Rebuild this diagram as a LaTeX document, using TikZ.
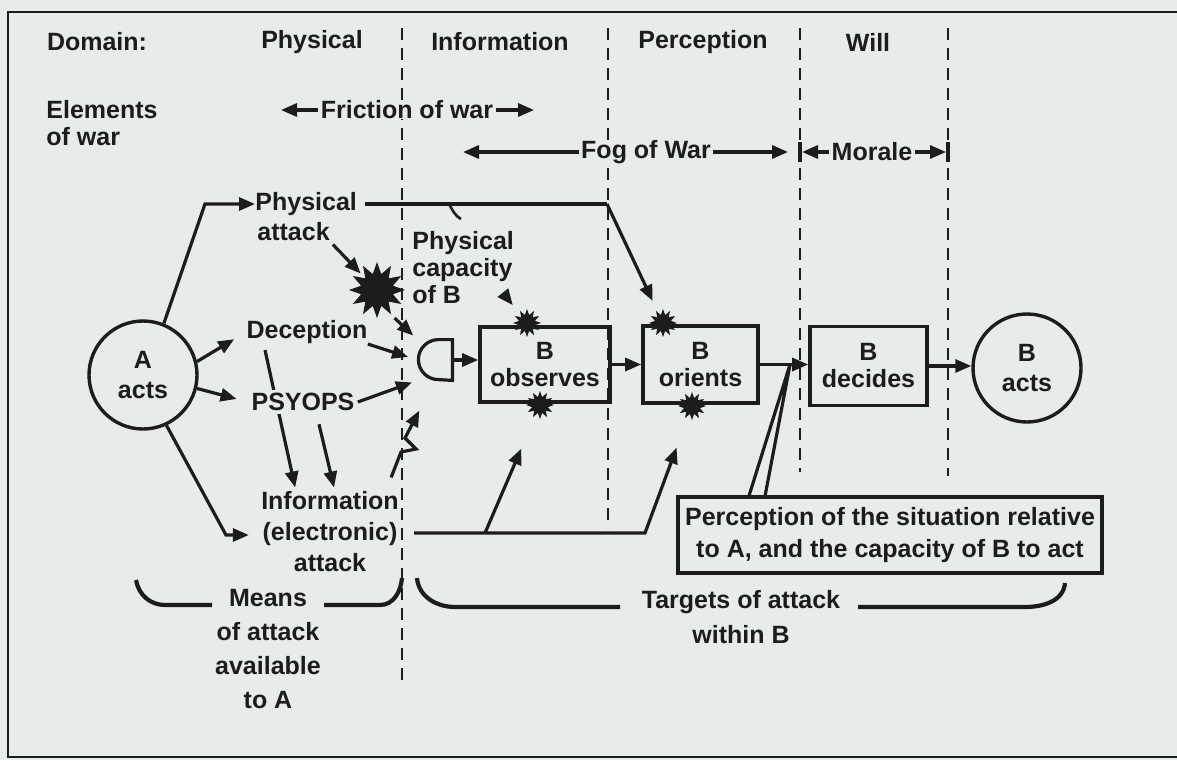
\documentclass[tikz,border=0pt]{standalone}
\usepackage{fontspec}
\setmainfont{Liberation Sans}
\usetikzlibrary{arrows.meta,shapes.geometric,calc}
\definecolor{paper}{RGB}{232,236,232}
\definecolor{ink}{RGB}{28,28,28}
\newcommand\lblsize[1]{\bfseries\fontsize{12.5pt}{#1}\selectfont}

\begin{document}
\begin{tikzpicture}[x=0.5pt,y=-0.5pt,
  lbl/.style={inner sep=0pt,text=ink,font=\lblsize{15pt},align=center},
  boxnode/.style={draw=ink,line width=1.8pt,inner sep=0pt,text=ink,
    font=\lblsize{13.5pt},align=center},
  circnode/.style={circle,draw=ink,line width=1.7pt,minimum size=54pt,
    inner sep=0pt,text=ink,font=\lblsize{15pt},align=center},
  ln/.style={draw=ink,line width=1.6pt},
  arr/.style={ln,-{Triangle[length=8pt,width=6.5pt]}},
  divider/.style={draw=ink,line width=1.2pt,dash pattern=on 6pt off 4pt},
  burst/.style={star,star points=12,star point ratio=1.7,fill=ink,inner sep=0pt},
  brk/.style={draw=ink,line width=2.1pt}]

\fill[paper] (0,0) rectangle (1177,760);
\useasboundingbox (0,0) rectangle (1177,760);

% frame
\draw[ink,line width=1pt] (1177,12) -- (8,12) -- (8,757) -- (1177,757);

% domain dividers
\foreach \x/\yb in {402/680,608/528,800/472,948/476}
  \draw[divider] (\x,28) -- (\x,\yb);

% header row
\node[lbl] (hdom) at (97,42) {Domain:};
\node[lbl] (hphy) at (312,42) {Physical};
\node[lbl] (hinf) at (500,42) {Information};
\node[lbl] (hper) at (703,42) {Perception};
\node[lbl] (hwil) at (868,42) {Will};

% elements of war
\node[lbl,align=left,anchor=west,font=\lblsize{13.5pt}] (elem) at (46,123) {Elements\\of war};
\node[lbl,fill=paper,inner xsep=1pt] (fric) at (407,110) {Friction of war};
\coordinate (fricL) at (281,110);
\coordinate (fricR) at (534,110);
\draw[arr] (fric.west) -- (fricL);
\draw[arr] (fric.east) -- (fricR);

\node[lbl,fill=paper,inner xsep=1pt] (fog) at (646,152) {Fog of War};
\coordinate (fogL) at (463,152);
\coordinate (fogR) at (788,152);
\draw[arr] (fog.west) -- (fogL);
\draw[arr] (fog.east) -- (fogR);

% morale, bounded by the will domain
\draw[ink,line width=1.6pt] (800,142) -- (800,162) (948,142) -- (948,162);
\node[lbl,inner xsep=1pt] (mor) at (872,152) {Morale};
\coordinate (morL) at (802,152);
\coordinate (morR) at (946,152);
\draw[arr] (mor.west) -- (morL);
\draw[arr] (mor.east) -- (morR);

% actors
\node[circnode] (A) at (143,375) {A\\acts};
\node[circnode] (Bact) at (1027,368) {B\\acts};

% OODA stages of B
\node[boxnode,minimum width=65pt,minimum height=37.5pt] (obs) at (545,364.5) {B\\observes};
\node[boxnode,minimum width=57.5pt,minimum height=38.5pt] (ori) at (700.5,364.5) {B\\orients};
\node[boxnode,minimum width=58.5pt,minimum height=39.5pt] (dec) at (868.5,366) {B\\decides};

% gate in front of the observation stage
\node[minimum width=17pt,minimum height=20pt,inner sep=0pt] (gate) at (435,360) {};
\draw[ln] (gate.north east) -- ++(-7pt,0) arc[start angle=90,end angle=270,radius=10pt]
  -- (gate.south east) -- cycle;

% hits
\node[burst,minimum size=28pt] (bang) at (377,290) {};
\node[burst,minimum size=14pt] (obsT) at (527,323) {};
\node[burst,minimum size=14pt] (obsB) at (540,405) {};
\node[burst,minimum size=14pt] (oriT) at (663,323) {};
\node[burst,minimum size=14pt] (oriB) at (692,406) {};

% means of attack
\node[lbl,anchor=west] (physA) at (255,204) {Physical};
\node[lbl,anchor=west] (physB) at (257,232) {attack};
\node[lbl,align=left,anchor=north west,font=\lblsize{13.5pt}] (cap) at (412,231) {Physical\\capacity\\of B};
\node[lbl] (decep) at (307,332) {Deception};
\node[lbl,font=\lblsize{15.5pt}] (info) at (330,532) {Information\\(electronic)\\attack};

% deception also feeds the electronic attack (passes behind PSYOPS)
\draw[arr,shorten >=2pt] ([xshift=-21pt,yshift=-3pt]decep.south) -- ([xshift=-17pt]info.north);
\node[lbl,fill=paper,inner sep=1.5pt] (psy) at (303,402) {PSYOPS};
\draw[arr,shorten >=2pt] ([xshift=8pt,yshift=-5pt]psy.south) -- ([xshift=2.5pt]info.north);

% A acts
\coordinate (kPA) at (205,204);
\draw[arr] (A.68) -- (kPA) -- (physA.west);
\draw[arr,shorten >=7pt] (A.14) -- (decep.west);
\draw[arr,shorten >=6pt] (A.-14) -- (psy.west);
\coordinate (kIA) at (226,535);
\draw[arr,shorten >=6pt] (A.-65) -- (kIA) -- (kIA -| info.west);

% into the gate
\draw[arr,shorten >=5pt] (decep.south east) -- (gate.west);
\draw[arr,shorten >=3pt] (psy.east) -- (gate.south west);
\draw[arr,shorten <=2pt,shorten >=3pt] (bang.-60) -- (gate.north west);
\draw[arr,shorten <=2pt,shorten >=3pt] (physB.south east) -- (bang.135);

% electronic strike (lightning) on the gate
\coordinate (z0) at ([xshift=-4pt,yshift=7pt]info.north east);
\coordinate (z1) at (401,452);
\coordinate (z2) at (416,449);
\coordinate (z3) at (405,438);
\draw[arr,shorten >=17pt] (z0) -- (z1) -- (z2) -- (z3) -- (gate.south);

% physical attack on the orientation stage
\coordinate (kP) at (607,204);
\draw[ln] ([xshift=4pt]physA.east) -- (kP);
\draw[arr,shorten >=6pt] (kP) -- (oriT);
\coordinate (tkA) at (449,204);
\coordinate (tkB) at (461,219);
\draw[ln,line width=1.3pt] (tkA) to[out=-60,in=150] (tkB);
\draw[arr,shorten >=6pt] ([xshift=-3.5pt,yshift=3pt]cap.south east) -- (obsT);

% main flow
\draw[arr] (gate.east) -- (gate.east -| obs.west);
\draw[arr] (obs.east) -- (obs.east -| ori.west);
\draw[arr] (ori.east) -- (ori.east -| dec.west);
\draw[arr] (dec.east) -- (dec.east -| Bact.west);

% electronic attack on observation and orientation
\coordinate (kI0) at ([xshift=7.5pt]info.east);
\coordinate (kI1) at (485,533);
\coordinate (kI2) at (645,533);
\draw[arr,shorten >=17pt] (kI0 |- kI1) -- (kI2) -- (oriB);
\draw[arr,shorten >=18pt] (kI1) -- (obsB);

% perception callout
\node[boxnode,minimum width=212pt,minimum height=38pt,font=\lblsize{16pt}] (perc) at (890,535)
  {Perception of the situation relative\\to A, and the capacity of B to act};
\coordinate (kC) at (790,364.5);
\draw[ln] ([xshift=36.5pt]perc.north west) -- (kC) -- ([xshift=44.5pt]perc.north west);

% brackets
\node[lbl,font=\lblsize{17pt}] (means) at (268,649) {Means\\of attack\\available\\to A};
\draw[brk] (136,580) to[out=-80,in=180] (165,605) -- (212,605);
\draw[brk] (324,605) -- (380,605) to[out=0,in=-95] (402,578);

\node[lbl,font=\lblsize{17.5pt}] (targ) at (741,617) {Targets of attack\\within B};
\draw[brk] (417,578) to[out=-85,in=180] (455,607) -- (620,607);
\draw[brk] (858,607) -- (1025,607) to[out=0,in=-95] (1065,583);

\end{tikzpicture}
\end{document}
